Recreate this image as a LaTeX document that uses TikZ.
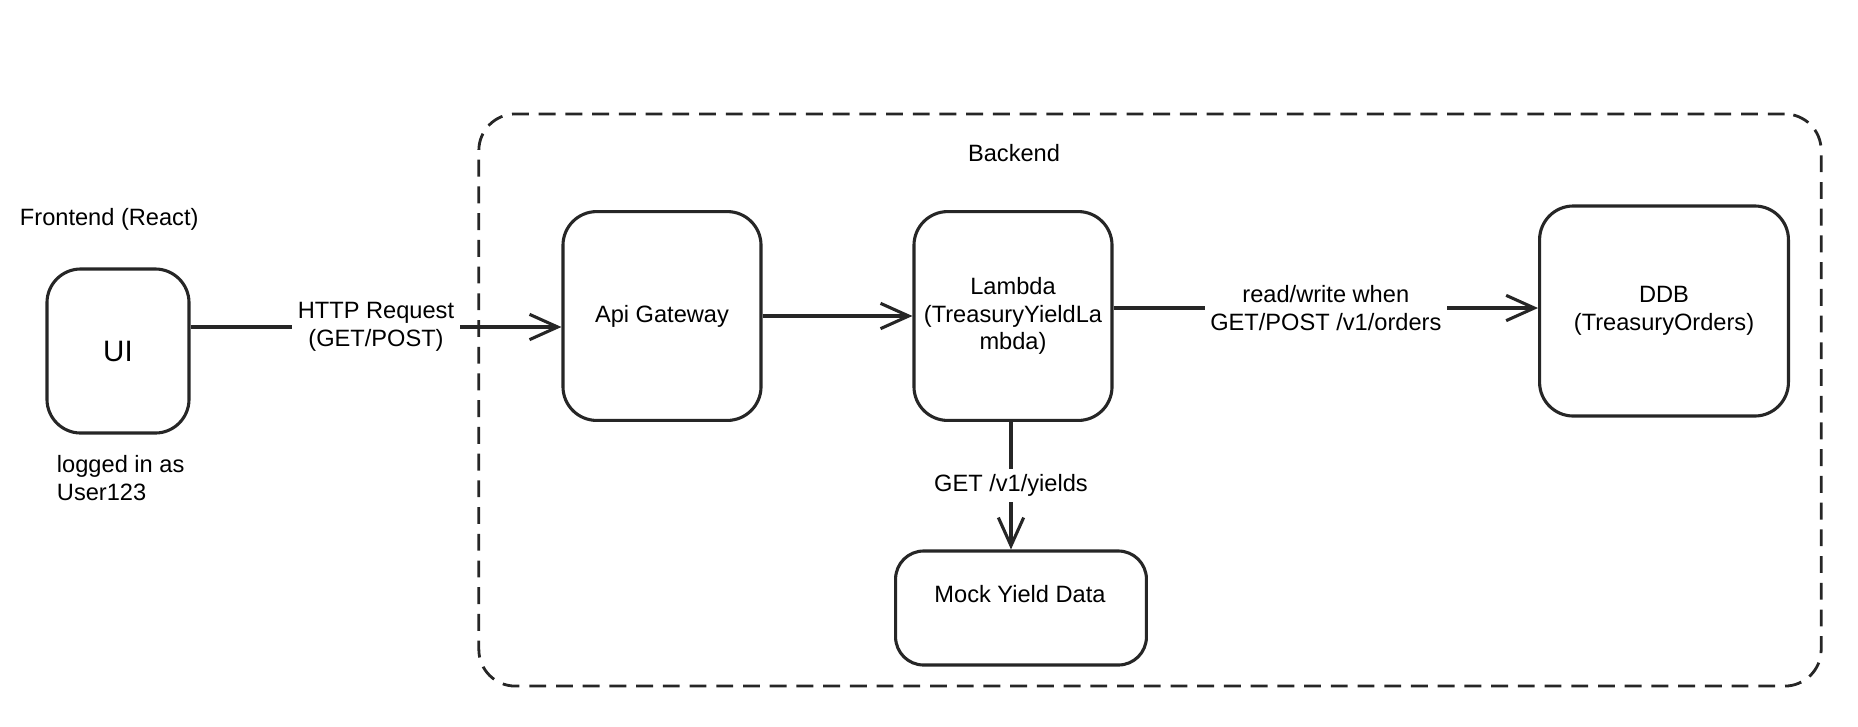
\documentclass[tikz,border=0pt]{standalone}
\usepackage{fontspec}
\setmainfont{Liberation Sans}
\usetikzlibrary{arrows.meta}

\begin{document}
\begin{tikzpicture}[x=0.025cm,y=-0.025cm,font=\fontsize{16.8}{19.5}\selectfont]
		\useasboundingbox (0,0) rectangle (1858,726);
		% backend container
		\node[draw=black!85,line width=2pt,dash pattern=on 12pt off 7pt,rounded corners=26pt,
			minimum width=33.55cm,minimum height=14.3cm] (backend) at (1150,400) {};
		\node (backendlbl) at (1014,153) {Backend};
		\node[anchor=west] (frontendlbl) at (15,219) {Frontend (React)};
		\node[anchor=west,align=left] (userlbl) at (52,478) {logged in as\\User123};
		\begin{scope}[every node/.style={draw=black!85,line width=2.2pt,rounded corners=24pt,align=center,fill=white}]
			\node[minimum width=3.55cm,minimum height=4.1cm,font=\fontsize{21}{24}\selectfont] (ui) at (118,351) {UI};
			\node[minimum width=4.95cm,minimum height=5.22cm] (gateway) at (662,316) {Api Gateway};
			\node[minimum width=4.95cm,minimum height=5.22cm] (lambda) at (1013,316) {Lambda\\(TreasuryYieldLa\\mbda)};
			\node[minimum width=6.22cm,minimum height=5.25cm] (ddb) at (1664,311) {DDB\\(TreasuryOrders)};
			\node[minimum width=6.27cm,minimum height=2.85cm,rounded corners=20pt] (mock) at (1021,608) {};
		\end{scope}
		\node (mocklbl) at (1020,594) {Mock Yield Data};
		\begin{scope}[>={Straight Barb[length=20pt,width=18pt,line width=2.2pt]},
			every node/.style={fill=white,align=center,inner sep=4pt},
			every edge/.style={draw=black!85,line width=2.4pt}]
			\path [->] (ui.east |- 0,327) edge node {HTTP Request\\(GET/POST)} (gateway.west |- 0,327);
			\path [->] (gateway) edge (lambda);
			\path [->] (lambda.east |- 0,308) edge node {read/write when\\GET/POST /v1/orders} (ddb.west |- 0,308);
			\path [->] (lambda.south -| 1011,0) edge node {GET /v1/yields} (mock.north -| 1011,0);
		\end{scope}
	\end{tikzpicture}
\end{document}
